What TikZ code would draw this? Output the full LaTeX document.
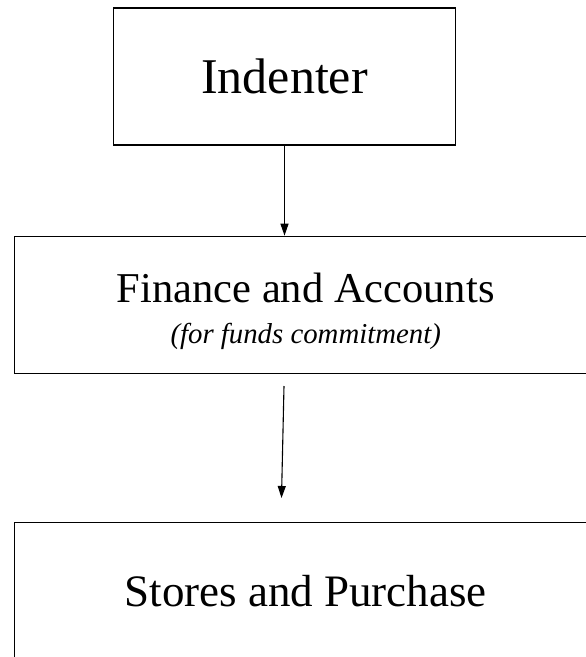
\documentclass[tikz,border=0pt]{standalone}
\usepackage{fontspec}
\setmainfont{Liberation Serif}
\usetikzlibrary{positioning,arrows.meta}

\tikzset{
  unit/.style={draw, line width=1.3pt, minimum height=137pt, inner sep=0pt},
  flow/.style={-{Triangle[length=12pt,width=8pt]}, line width=1.1pt},
}

\begin{document}
\begin{tikzpicture}[x=1pt, y=-1pt]
  \useasboundingbox (0,0) rectangle (586,657);
  \node[unit, minimum width=341.6pt, font=\fontsize{50}{60}\selectfont] (ind) at (284.5,76.5) {Indenter};
  \node[unit, minimum width=582.7pt, align=center, font=\fontsize{42.5}{41}\selectfont] (fin) at (305.7,304.8)
    {\rule{0pt}{42pt}Finance and Accounts\\{\fontsize{28.8}{41}\selectfont\itshape (for funds commitment)}};
  \node[unit, minimum width=582.7pt, font=\fontsize{45}{54}\selectfont] (sto) at (305.7,591.2) {Stores and Purchase};
  % arrows
  \coordinate (top2) at (284,386);
  \coordinate (end2) at (281.5,498);
  \draw[flow] (ind) -- (ind |- fin.north);
  \draw[flow] (top2) -- (end2);
\end{tikzpicture}
\end{document}
